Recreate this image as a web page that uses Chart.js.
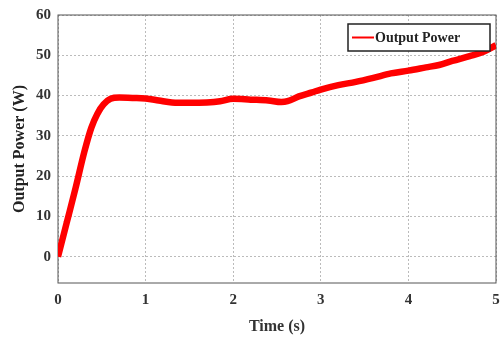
<!DOCTYPE html>
<html>
<head>
<meta charset="utf-8">
<script src="https://cdn.jsdelivr.net/npm/chart.js@4"></script>
<style>
  html, body { margin: 0; padding: 0; background: #fff; }
  #wrap { width: 502px; height: 340px; }
</style>
</head>
<body>
<div id="wrap"><canvas id="myChart" width="502" height="340"></canvas></div>
<script>
// données
const times = [0, 0.1, 0.2, 0.3, 0.38, 0.45, 0.52, 0.6, 0.7, 0.85, 1.0, 1.15, 1.3, 1.5, 1.7, 1.85, 2.0, 2.2, 2.4, 2.55, 2.62, 2.75, 2.9, 3.0, 3.2, 3.4, 3.6, 3.8, 4.0, 4.2, 4.35, 4.5, 4.7, 4.85, 5.0];
const power = [0, 8.5, 17, 26, 32, 35.5, 37.8, 39.2, 39.5, 39.4, 39.3, 38.8, 38.3, 38.2, 38.3, 38.6, 39.2, 39.0, 38.8, 38.4, 38.6, 39.8, 40.8, 41.5, 42.6, 43.4, 44.4, 45.5, 46.2, 47.0, 47.6, 48.6, 49.8, 50.8, 52.5];
const yTicks = [0, 10, 20, 30, 40, 50, 60];
const xTicks = [0, 1, 2, 3, 4, 5];
const seriesLabel = 'Output Power';

const serif = '"Liberation Serif", "DejaVu Serif", serif';

// légende dessinée dans la zone du graphique
const insideLegend = {
  id: 'insideLegend',
  afterDraw(chart) {
    const c = chart.ctx;
    const x0 = 348, y0 = 24, w = 142, h = 27;
    c.save();
    c.fillStyle = '#fff';
    c.fillRect(x0, y0, w, h);
    c.strokeStyle = '#222';
    c.lineWidth = 1.5;
    c.strokeRect(x0, y0, w, h);
    c.strokeStyle = '#ff0000';
    c.lineWidth = 2;
    c.beginPath();
    c.moveTo(x0 + 4, y0 + h / 2);
    c.lineTo(x0 + 26, y0 + h / 2);
    c.stroke();
    c.fillStyle = '#222';
    c.font = 'bold 14px ' + serif;
    c.textBaseline = 'middle';
    c.fillText(chart.data.datasets[0].label, x0 + 27, y0 + h / 2 + 1);
    c.restore();
  }
};

// cadre plein autour de la zone de tracé
const frame = {
  id: 'frame',
  beforeDatasetsDraw(chart) {
    const a = chart.chartArea, c = chart.ctx;
    c.save();
    c.strokeStyle = '#555';
    c.lineWidth = 1;
    c.strokeRect(a.left, a.top, a.right - a.left, a.bottom - a.top);
    c.restore();
  }
};

const ctx = document.getElementById('myChart').getContext('2d');

const myChart = new Chart(ctx, {
  type: 'line',
  data: {
    datasets: [{
      label: seriesLabel,
      data: times.map((t, i) => ({ x: t, y: power[i] })),
      borderColor: '#ff0000',
      borderWidth: 6.5,
      pointRadius: 0,
      cubicInterpolationMode: 'monotone',
      fill: false
    }]
  },
  options: {
    responsive: false,
    animation: false,
    layout: { padding: { top: 15, right: 6, left: 6, bottom: 0 } },
    plugins: {
      legend: { display: false },
      tooltip: { enabled: false }
    },
    scales: {
      x: {
        type: 'linear',
        min: 0,
        max: 5,
        afterBuildTicks: (s) => { s.ticks = xTicks.map(v => ({ value: v })); },
        afterFit: (s) => { s.height = 57; s.paddingRight = 0; s.paddingLeft = 0; },
        grid: { color: '#bbb', drawTicks: false },
        border: { display: false, dash: [2, 2] },
        ticks: {
          color: '#333',
          padding: 8,
          font: { family: serif, size: 15, weight: 'bold' }
        },
        title: {
          display: true,
          text: 'Time (s)',
          color: '#333',
          padding: { top: 2 },
          font: { family: serif, size: 16, weight: 'bold' }
        }
      },
      y: {
        min: -6.5,
        max: 60,
        afterBuildTicks: (s) => { s.ticks = yTicks.map(v => ({ value: v })); },
        afterFit: (s) => { s.width = 52; s.paddingTop = 0; s.paddingBottom = 0; },
        grid: { color: '#bbb', drawTicks: false },
        border: { display: false, dash: [2, 2] },
        ticks: {
          color: '#333',
          padding: 7,
          font: { family: serif, size: 15, weight: 'bold' }
        },
        title: {
          display: true,
          text: 'Output Power (W)',
          color: '#222',
          padding: { bottom: 0 },
          font: { family: serif, size: 16, weight: 'bold' }
        }
      }
    }
  },
  plugins: [insideLegend, frame]
});
</script>
</body>
</html>
